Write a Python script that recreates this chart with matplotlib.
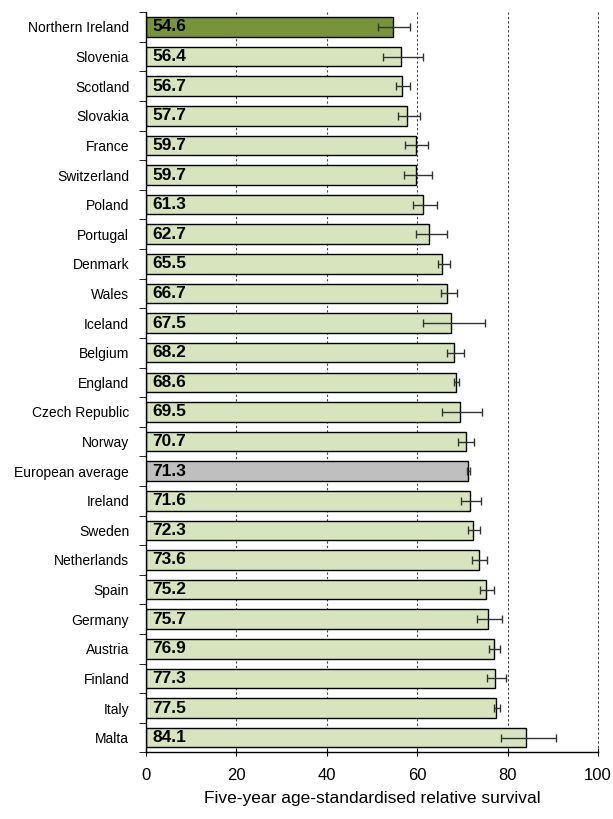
import numpy as np
import matplotlib
matplotlib.use("Agg")
import matplotlib.pyplot as plt

plt.rcParams['font.family'] = ['Liberation Sans Narrow', 'Liberation Sans', 'DejaVu Sans']

countries = ['Northern Ireland', 'Slovenia', 'Scotland', 'Slovakia', 'France', 'Switzerland',
             'Poland', 'Portugal', 'Denmark', 'Wales', 'Iceland', 'Belgium', 'England',
             'Czech Republic', 'Norway', 'European average', 'Ireland', 'Sweden', 'Netherlands',
             'Spain', 'Germany', 'Austria', 'Finland', 'Italy', 'Malta']
survival = [54.6, 56.4, 56.7, 57.7, 59.7, 59.7, 61.3, 62.7, 65.5, 66.7, 67.5, 68.2, 68.6,
            69.5, 70.7, 71.3, 71.6, 72.3, 73.6, 75.2, 75.7, 76.9, 77.3, 77.5, 84.1]
ci_low = [51.4, 52.5, 55.4, 55.7, 57.3, 57.0, 59.0, 59.7, 64.6, 65.2, 61.3, 66.6, 68.2,
          65.5, 69.1, 71.0, 69.6, 71.3, 72.2, 73.8, 73.2, 75.8, 75.5, 77.1, 78.5]
ci_high = [58.5, 61.3, 58.5, 60.6, 62.4, 63.3, 64.4, 66.6, 67.2, 68.8, 75.0, 70.3, 69.3,
           74.3, 72.6, 71.8, 74.1, 73.9, 75.5, 77.1, 78.8, 78.4, 79.6, 78.3, 90.7]

survival = np.array(survival)
err = np.array([survival - np.array(ci_low), np.array(ci_high) - survival])

colors = []
for c in countries:
    if c == 'Northern Ireland':
        colors.append('#77933C')
    elif c == 'European average':
        colors.append('#BFBFBF')
    else:
        colors.append('#D7E4BD')

fig = plt.figure(figsize=(6.13, 8.19), dpi=100)
ax = fig.add_axes([0.238, 0.0812, 0.7375, 0.904])

y = np.arange(len(countries))
ax.barh(y, survival, height=0.66, color=colors, edgecolor='black', linewidth=1.0, zorder=2)
ax.errorbar(survival, y, xerr=err, fmt='none', ecolor='#333333', elinewidth=1.0,
            capsize=3, capthick=1.0, zorder=3)

for yi, v in zip(y, survival):
    ax.text(1.4, yi, f'{v:.1f}', va='center', ha='left', fontsize=12.5,
            fontweight='bold', zorder=4)

# vertical reference lines
for xv in [20, 40, 60, 80, 100]:
    ax.axvline(xv, color='#444444', linestyle=(0, (2, 2)), linewidth=0.8, zorder=1,
               clip_on=False)

ax.set_xlim(0, 100)
ax.set_ylim(len(countries) - 0.5, -0.5)
ax.set_xticks([0, 20, 40, 60, 80, 100])
ax.tick_params(axis='x', direction='inout', length=6, labelsize=12, pad=8)

ax.set_yticks(y)
ax.set_yticklabels(countries, fontsize=10)
ax.tick_params(axis='y', length=0, pad=12)
ax.set_yticks(np.arange(len(countries) + 1) - 0.5, minor=True)
ax.tick_params(axis='y', which='minor', direction='out', length=5)

ax.spines['top'].set_visible(False)
ax.spines['right'].set_visible(False)
ax.spines['left'].set_linewidth(1.0)
ax.spines['bottom'].set_linewidth(1.0)

ax.set_xlabel('Five-year age-standardised relative survival', fontsize=12.5, labelpad=6)

plt.savefig('out.png', dpi=100)
